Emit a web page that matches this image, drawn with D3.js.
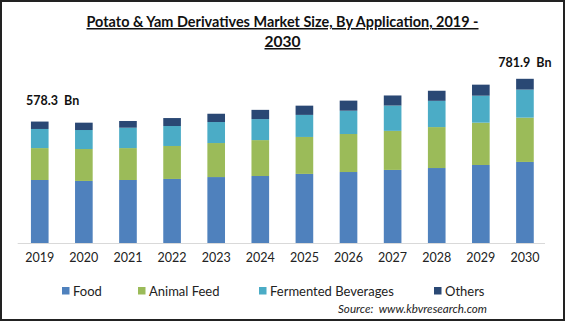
<!DOCTYPE html>
<html>
<head>
<meta charset="utf-8">
<script src="https://cdn.jsdelivr.net/npm/d3@7"></script>
<style>
  body { margin: 0; background: #fff; }
  svg { display: block; font-family: Lato, "Open Sans", sans-serif; }
  text { white-space: pre; }
</style>
</head>
<body>
<svg id="chart" width="565" height="322"></svg>
<script>
// market size by application, USD Bn
var years = ["2019","2020","2021","2022","2023","2024","2025","2026","2027","2028","2029","2030"];
var food = [300, 295.5, 300, 305, 314, 319, 329, 338, 348, 357, 371.5, 386];
var animalFeed = [152, 152, 152, 157, 162, 171, 176, 181, 186, 195, 201.5, 211];
var fermentedBeverages = [91, 90.5, 97, 95, 100, 100, 105, 111, 120.5, 125, 128.5, 133.5];
var others = [35.3, 35, 32, 38, 39.5, 44, 44, 48, 48, 48, 52.5, 51.4];
var seriesNames = ["Food", "Animal Feed", "Fermented Beverages", "Others"];
var colors = ["#4f81bd", "#9bbb59", "#4bacc6", "#2a4874"];

var svg = d3.select("#chart");

// frame
svg.append("rect")
  .attr("x", 1).attr("y", 1)
  .attr("width", 563).attr("height", 319)
  .attr("fill", "none")
  .attr("stroke", "#222").attr("stroke-width", 2);

// title, two lines, underlined
var title = ["Potato & Yam Derivatives Market Size, By Application, 2019 -", "2030"];
var titleW = [392, 36];
title.forEach(function(t, i){
  svg.append("text")
    .attr("x", 282.5).attr("y", 27 + i*20)
    .attr("text-anchor", "middle")
    .attr("font-size", "15px").attr("font-weight", 700)
    .attr("text-decoration", "underline")
    .attr("fill", "#111")
    .attr("textLength", titleW[i]).attr("lengthAdjust", "spacingAndGlyphs")
    .text(t);
});

var table = years.map(function(y, i){
  return { year: y, Food: food[i], "Animal Feed": animalFeed[i],
           "Fermented Beverages": fermentedBeverages[i], Others: others[i] };
});
var stacked = d3.stack().keys(seriesNames)(table);

var x = d3.scaleBand().domain(years).range([17.7, 547]).paddingInner(0.6).paddingOuter(0.3);
var y = d3.scaleLinear().domain([0, 800]).range([243, 75]);

var g = svg.append("g");
g.selectAll("g.layer")
  .data(stacked)
  .join("g")
  .attr("class", "layer")
  .attr("fill", function(d, i){ return colors[i]; })
  .selectAll("rect")
  .data(function(d){ return d; })
  .join("rect")
  .attr("x", function(d){ return x(d.data.year); })
  .attr("y", function(d){ return y(d[1]); })
  .attr("width", x.bandwidth())
  .attr("height", function(d){ return y(d[0]) - y(d[1]); });

// x axis
var xAxis = svg.append("g")
  .attr("transform", "translate(0,243)")
  .call(d3.axisBottom(x).tickSize(0).tickPadding(10));
xAxis.select(".domain").attr("stroke", "#d9d9d9").attr("d", "M17.7,0.5H545");
xAxis.selectAll("text")
  .attr("font-family", "Lato, sans-serif")
  .attr("font-size", "12.5px").attr("fill", "#222");

// total labels on first and last bars
var first = stacked[3][0], last = stacked[3][years.length - 1];
svg.append("text")
  .attr("x", 26).attr("y", y(first[1]) - 16.5)
  .attr("font-size", "12.5px").attr("font-weight", 700).attr("fill", "#111")
  .text(d3.format(".1f")(first[1]) + "  Bn");
svg.append("text")
  .attr("x", x(years[years.length - 1]) + x.bandwidth()/2).attr("y", y(last[1]) - 11.5)
  .attr("text-anchor", "middle")
  .attr("font-size", "12.5px").attr("font-weight", 700).attr("fill", "#111")
  .text(d3.format(".1f")(last[1]) + "  Bn");

// legend
var legendX = [62, 138, 259, 434];
var legend = svg.selectAll("g.legend")
  .data(seriesNames)
  .join("g")
  .attr("class", "legend")
  .attr("transform", function(d, i){ return "translate(" + legendX[i] + ",287)"; });
legend.append("rect")
  .attr("width", 7.5).attr("height", 7.5)
  .attr("fill", function(d, i){ return colors[i]; });
legend.append("text")
  .attr("x", 11).attr("y", 9)
  .attr("font-size", "13px").attr("fill", "#222")
  .text(function(d){ return d; });

// source
svg.append("text")
  .attr("x", 487).attr("y", 313)
  .attr("text-anchor", "end")
  .attr("font-size", "12px").attr("font-style", "italic").attr("fill", "#222")
  .attr("textLength", 149).attr("lengthAdjust", "spacingAndGlyphs")
  .text("Source:  www.kbvresearch.com");
</script>
</body>
</html>
